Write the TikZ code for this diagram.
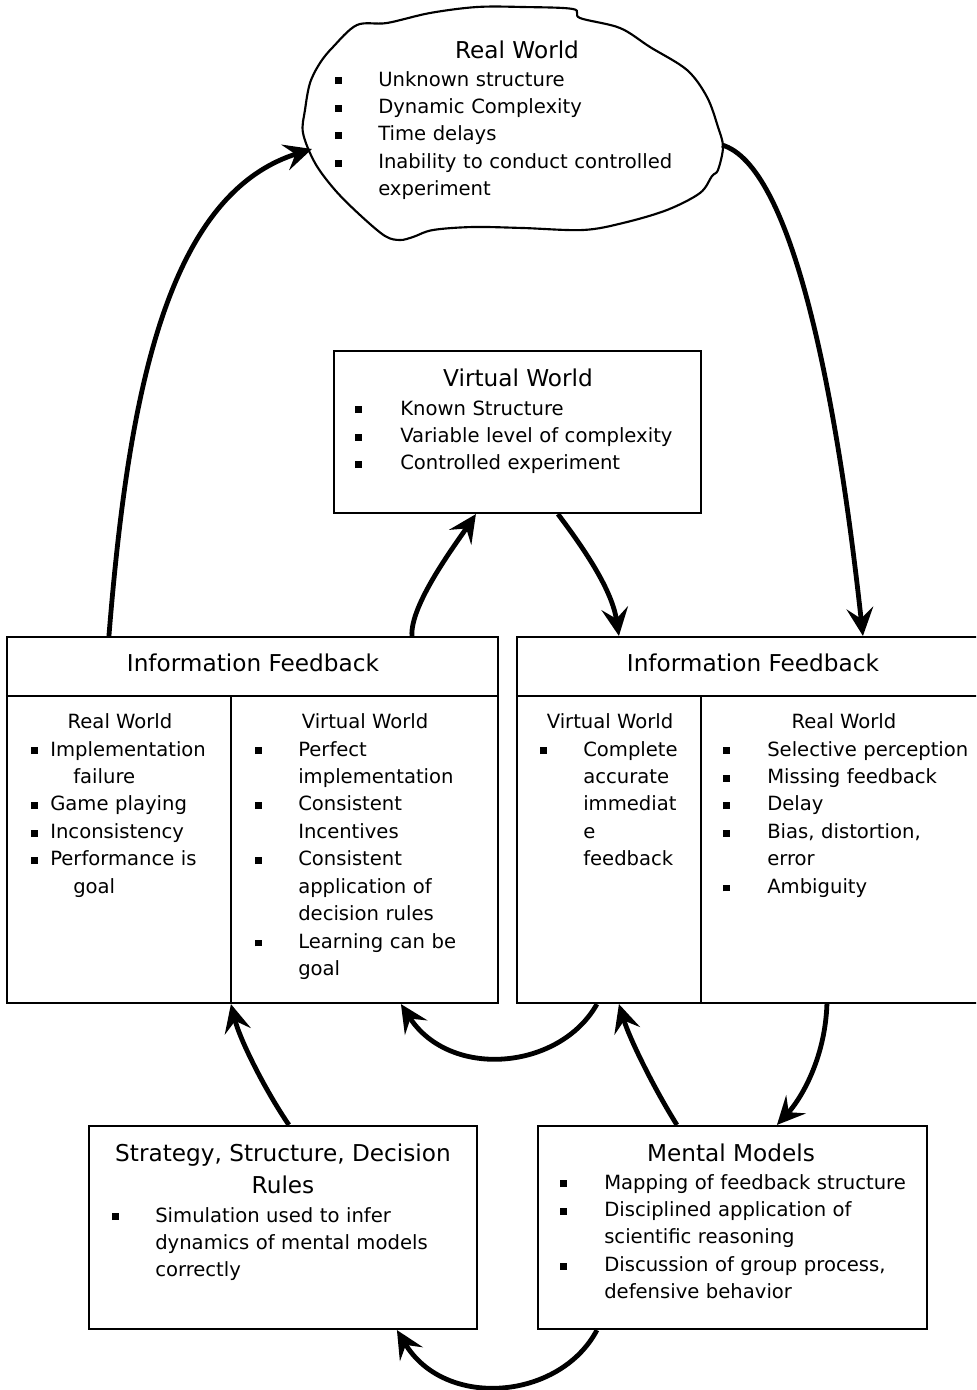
\documentclass[tikz,border=0pt]{standalone}
\usepackage{fontspec}
\setmainfont{DejaVu Sans}
\usetikzlibrary{positioning,calc,arrows.meta}
\newcommand\sqbul{\rule[1.4pt]{5pt}{5pt}}
\newcommand\bul[1]{\makebox[#1][l]{\sqbul}}
\tikzset{
	box/.style={draw=black,line width=1.6pt,inner sep=0pt},
	flow/.style={draw=black,line width=3.6pt,-{Stealth[length=21pt,width=20pt,inset=8pt]}},
	ttl/.style={inner sep=0pt,anchor=base,font=\fontsize{17.4}{24}\selectfont},
	sub/.style={inner sep=0pt,anchor=base,font=\fontsize{14.7}{20.6}\selectfont},
	items/.style={inner sep=0pt,anchor=base west,text width=320pt,align=left,
		font=\fontsize{14.7}{20.6}\selectfont},
}
\begin{document}
\begin{tikzpicture}[x=0.75pt,y=-0.75pt]
	\clip (0,0) rectangle (976,1390);
	% cloud of the real world
	\draw[line width=1.6pt] plot[smooth cycle,tension=0.55] coordinates {
		(303,133) (305,110) (310,83) (320,63) (333,47) (357,25) (387,23) (430,13)
		(477,7) (523,7) (573,9) (580,18) (620,28) (650,47) (687,70) (707,97)
		(718,127) (723,147) (718,170) (712,176) (700,193) (667,210) (623,223) (583,230)
		(523,228) (473,227) (433,230) (413,237) (400,240) (385,236) (360,215)
		(335,190) (315,163)};
	\coordinate (cloudL) at (312,149);
	\coordinate (cloudR) at (722,145);
	\node[ttl] (rwtitle) at (517,58) {Real World};
	\node[items] (rwlist) at (335,86) {\bul{32.25pt}Unknown structure\\
		\bul{32.25pt}Dynamic Complexity\\
		\bul{32.25pt}Time delays\\
		\bul{32.25pt}Inability to conduct controlled\\
		\hspace*{32.25pt}experiment};
	% boxes
	\node[box,minimum width=275.25pt,minimum height=121.5pt] (vw) at (517.5,432) {};
	\node[box,minimum width=368.25pt,minimum height=274.5pt] (lif) at (252.5,820) {};
	\node[box,minimum width=354.75pt,minimum height=274.5pt] (rif) at (753.5,820) {};
	\node[box,minimum width=291pt,minimum height=152.25pt] (strat) at (283,1227.5) {};
	\node[box,minimum width=291.75pt,minimum height=152.25pt] (mm) at (732.5,1227.5) {};
	\draw[line width=1.6pt] ($(lif.north west)+(0,60)$) -- ($(lif.north east)+(0,60)$);
	\draw[line width=1.6pt] ($(lif.north west)+(225,60)$) -- ($(lif.south west)+(225,0)$);
	\draw[line width=1.6pt] ($(rif.north west)+(0,60)$) -- ($(rif.north east)+(0,60)$);
	\draw[line width=1.6pt] ($(rif.north west)+(185,60)$) -- ($(rif.south west)+(185,0)$);
	% virtual world
	\node[ttl] (vwtitle) at (518,386) {Virtual World};
	\node[items] (vwlist) at (355,415) {\bul{33.75pt}Known Structure\\
		\bul{33.75pt}Variable level of complexity\\
		\bul{33.75pt}Controlled experiment};
	% information feedback, left
	\node[ttl] (liftitle) at (253,671) {Information Feedback};
	\node[sub] (lifrw) at (120,728) {Real World};
	\node[sub] (lifvw) at (365,728) {Virtual World};
	\node[items] (lifrwlist) at (31,756) {\bul{14.25pt}Implementation\\
		\hspace*{31.5pt}failure\\
		\bul{14.25pt}Game playing\\
		\bul{14.25pt}Inconsistency\\
		\bul{14.25pt}Performance is\\
		\hspace*{31.5pt}goal};
	\node[items] (lifvwlist) at (255,756) {\bul{32.25pt}Perfect\\
		\hspace*{32.25pt}implementation\\
		\bul{32.25pt}Consistent\\
		\hspace*{32.25pt}Incentives\\
		\bul{32.25pt}Consistent\\
		\hspace*{32.25pt}application of\\
		\hspace*{32.25pt}decision rules\\
		\bul{32.25pt}Learning can be\\
		\hspace*{32.25pt}goal};
	% information feedback, right
	\node[ttl] (riftitle) at (753,671) {Information Feedback};
	\node[sub] (rifvw) at (610,728) {Virtual World};
	\node[sub] (rifrw) at (844,728) {Real World};
	\node[items] (rifvwlist) at (540,756) {\bul{32.25pt}Complete\\
		\hspace*{32.25pt}accurate\\
		\hspace*{32.25pt}immediat\\
		\hspace*{32.25pt}e\\
		\hspace*{32.25pt}feedback};
	\node[items] (rifrwlist) at (723,756) {\bul{33pt}Selective perception\\
		\bul{33pt}Missing feedback\\
		\bul{33pt}Delay\\
		\bul{33pt}Bias, distortion,\\
		\hspace*{33pt}error\\
		\bul{33pt}Ambiguity};
	% strategy and mental models
	\node[ttl] (strattitle) at (283,1161) {Strategy, Structure, Decision};
	\node[ttl] (strattitleb) at (283,1193) {Rules};
	\node[items] (stratlist) at (112,1222) {\bul{32.25pt}Simulation used to infer\\
		\hspace*{32.25pt}dynamics of mental models\\
		\hspace*{32.25pt}correctly};
	\node[ttl] (mmtitle) at (731,1161) {Mental Models};
	\node[items] (mmlist) at (560,1189) {\bul{33pt}Mapping of feedback structure\\
		\bul{33pt}Disciplined application of\\
		\hspace*{33pt}scientific reasoning\\
		\bul{33pt}Discussion of group process,\\
		\hspace*{33pt}defensive behavior};
	% arrows
	\draw[flow] ($(lif.north west)+(103,0)$) .. controls (128,400) and (165,195) .. (cloudL);
	\draw[flow] (cloudR) .. controls (790,165) and (835,380) .. ($(rif.north west)+(347,0)$);
	\draw[flow] ($(lif.north west)+(406,0)$) .. controls (410,605) and (455,545) .. ($(vw.south west)+(143,0)$);
	\draw[flow] ($(vw.south west)+(225,0)$) .. controls (585,550) and (612,590) .. ($(rif.north west)+(103,0)$);
	\draw[flow] ($(rif.south west)+(81,0)$) .. controls (560,1070) and (450,1080) .. ($(lif.south west)+(395,0)$);
	\draw[flow] ($(mm.north west)+(140,0)$) .. controls (655,1090) and (630,1040) .. ($(rif.south west)+(103,0)$);
	\draw[flow] ($(rif.south west)+(311,0)$) .. controls (825,1060) and (800,1100) .. ($(mm.north west)+(240,0)$);
	\draw[flow] ($(strat.north west)+(201,0)$) .. controls (265,1090) and (240,1040) .. ($(lif.south west)+(225,0)$);
	\draw[flow] ($(mm.south west)+(60,0)$) .. controls (560,1400) and (445,1410) .. ($(strat.south west)+(309,0)$);
\end{tikzpicture}
\end{document}
